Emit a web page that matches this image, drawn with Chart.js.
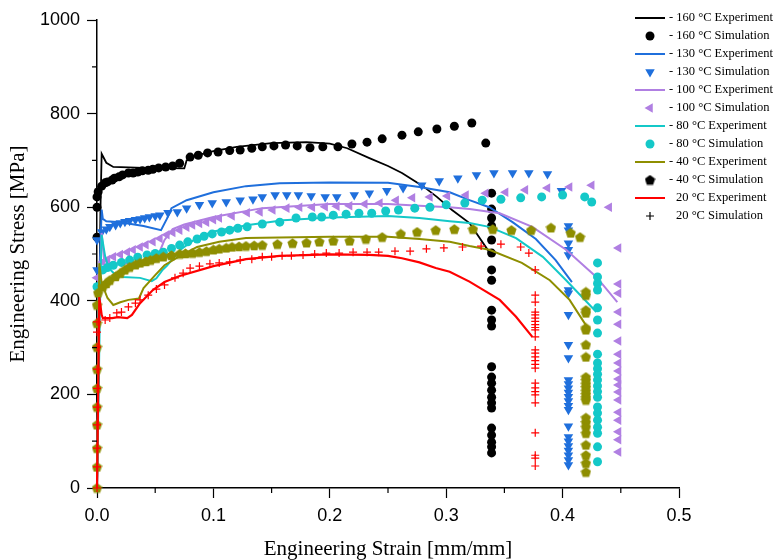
<!DOCTYPE html>
<html>
<head>
<meta charset="utf-8">
<title>Engineering stress - strain</title>
<script src="https://cdn.jsdelivr.net/npm/chart.js"></script>
<style>
  html, body { margin: 0; padding: 0; background: #fff; }
  #wrap { width: 780px; height: 560px; }
</style>
</head>
<body>
<div id="wrap"><canvas id="stressChart" width="780" height="560"></canvas></div>
<script>
// [strain mm/mm, stress MPa] pairs
const exp160 = [[0,0],[0.003,600],[0.004,714],[0.008,695],[0.014,686],[0.04,684],[0.075,683],[0.077,700],[0.085,710],[0.1,720],[0.12,729],[0.15,737],[0.18,739],[0.2,736],[0.215,726],[0.234,705],[0.25,688],[0.262,673],[0.28,645],[0.292,622],[0.305,594],[0.32,566],[0.337,504]];
const sim160 = [[0,536],[0,600],[0,622],[0.001,633],[0.004,645],[0.007,652],[0.009,654],[0.013,658],[0.015,662],[0.019,665],[0.022,669],[0.027,673],[0.031,673],[0.035,675],[0.039,678],[0.044,679],[0.048,681],[0.053,684],[0.059,686],[0.065,688],[0.071,694],[0.08,707],[0.087,711],[0.095,716],[0.104,718],[0.114,721],[0.123,722],[0.133,726],[0.142,729],[0.152,731],[0.162,733],[0.172,731],[0.183,727],[0.194,729],[0.207,729],[0.219,735],[0.232,739],[0.245,746],[0.262,754],[0.276,761],[0.292,767],[0.307,773],[0.322,780],[0.334,737],[0.339,630],[0.339,596],[0.339,577],[0.339,560],[0.339,530],[0.339,502],[0.339,466],[0.339,444],[0.339,380],[0.339,359],[0.339,346],[0.339,259],[0.339,237],[0.339,224],[0.339,209],[0.339,194],[0.339,182],[0.339,171],[0.339,128],[0.339,113],[0.339,98],[0.339,88],[0.339,75]];

const exp130 = [[0,0],[0.002,450],[0.004,595],[0.005,575],[0.008,570],[0.02,568],[0.04,560],[0.055,551],[0.06,575],[0.064,598],[0.077,615],[0.1,632],[0.128,645],[0.157,651],[0.2,653],[0.25,652],[0.277,643],[0.303,632],[0.32,615],[0.337,600],[0.357,568],[0.377,532],[0.394,487],[0.408,440]];
const sim130 = [[0,466],[0,530],[0.004,547],[0.008,553],[0.011,558],[0.016,562],[0.02,566],[0.024,569],[0.028,571],[0.033,573],[0.037,575],[0.041,577],[0.045,579],[0.05,581],[0.054,583],[0.061,588],[0.069,590],[0.077,598],[0.088,605],[0.099,609],[0.111,611],[0.123,615],[0.134,617],[0.142,622],[0.153,626],[0.163,626],[0.173,626],[0.184,624],[0.196,622],[0.206,622],[0.221,626],[0.234,630],[0.249,635],[0.263,641],[0.279,647],[0.294,656],[0.31,662],[0.326,669],[0.341,673],[0.357,673],[0.371,673],[0.387,671],[0.399,635],[0.405,560],[0.405,551],[0.405,523],[0.405,509],[0.405,498],[0.405,423],[0.405,416],[0.405,370],[0.405,306],[0.405,278],[0.405,231],[0.405,222],[0.405,213],[0.405,204],[0.405,195],[0.405,186],[0.405,176],[0.405,167],[0.405,132],[0.405,109],[0.405,100],[0.405,90],[0.405,80],[0.405,70],[0.405,60],[0.405,49]];

const exp100 = [[0,0],[0.002,400],[0.004,545],[0.006,490],[0.01,478],[0.03,480],[0.05,484],[0.053,500],[0.058,530],[0.065,553],[0.075,563],[0.1,579],[0.142,598],[0.2,607],[0.25,607],[0.277,603],[0.303,600],[0.32,596],[0.346,587],[0.374,558],[0.403,509],[0.429,451],[0.447,397]];
const sim100 = [[0,449],[0.005,483],[0.009,488],[0.014,494],[0.02,499],[0.026,504],[0.031,509],[0.037,515],[0.042,520],[0.048,526],[0.054,533],[0.06,541],[0.065,546],[0.071,551],[0.077,557],[0.082,562],[0.088,565],[0.094,568],[0.1,573],[0.105,577],[0.116,581],[0.129,588],[0.14,590],[0.151,594],[0.163,598],[0.174,600],[0.185,600],[0.196,601],[0.206,602],[0.217,603],[0.23,607],[0.243,609],[0.257,615],[0.271,620],[0.286,622],[0.301,624],[0.317,626],[0.334,630],[0.351,632],[0.368,637],[0.387,641],[0.406,643],[0.425,647],[0.44,600],[0.448,513],[0.448,436],[0.448,416],[0.448,376],[0.448,350],[0.448,314],[0.448,286],[0.448,267],[0.448,250],[0.448,233],[0.448,220],[0.448,205],[0.448,188],[0.448,162],[0.448,145],[0.448,120],[0.448,103],[0.448,77]];

const exp80 = [[0,0],[0.003,450],[0.004,541],[0.007,495],[0.01,470],[0.016,455],[0.022,451],[0.037,449],[0.047,442],[0.051,448],[0.056,465],[0.06,475],[0.067,495],[0.072,510],[0.086,535],[0.1,548],[0.13,562],[0.16,572],[0.2,578],[0.25,581],[0.277,577],[0.303,570],[0.32,566],[0.337,558],[0.36,534],[0.383,494],[0.403,444],[0.429,376]];
const sim80 = [[0,430],[0.005,466],[0.009,471],[0.014,476],[0.021,482],[0.028,487],[0.035,493],[0.043,498],[0.05,501],[0.057,504],[0.064,512],[0.071,519],[0.078,526],[0.086,532],[0.092,538],[0.099,543],[0.107,547],[0.114,551],[0.121,555],[0.129,558],[0.142,564],[0.157,568],[0.171,577],[0.185,579],[0.193,579],[0.203,583],[0.214,585],[0.225,587],[0.236,587],[0.248,592],[0.259,594],[0.273,598],[0.286,600],[0.3,605],[0.316,609],[0.331,615],[0.347,617],[0.364,620],[0.382,622],[0.4,626],[0.419,622],[0.425,611],[0.43,481],[0.43,451],[0.43,437],[0.43,423],[0.43,385],[0.43,359],[0.43,331],[0.43,286],[0.43,267],[0.43,255],[0.43,243],[0.43,231],[0.43,218],[0.43,206],[0.43,194],[0.43,173],[0.43,160],[0.43,145],[0.43,130],[0.43,117],[0.43,88],[0.43,56]];

const exp40 = [[0,0],[0.002,480],[0.004,438],[0.009,406],[0.014,391],[0.02,397],[0.027,402],[0.036,405],[0.04,427],[0.05,455],[0.058,476],[0.07,494],[0.086,515],[0.105,526],[0.128,534],[0.2,537],[0.25,537],[0.277,532],[0.303,526],[0.32,517],[0.337,509],[0.365,481],[0.389,444],[0.406,402],[0.42,348]];
const sim40 = [[0,0],[0,45],[0,85],[0,135],[0,173],[0,213],[0,254],[0,301],[0,352],[0,391],[0.001,417],[0.005,430],[0.008,437],[0.011,444],[0.016,452],[0.02,459],[0.024,466],[0.028,472],[0.033,477],[0.037,481],[0.042,484],[0.046,487],[0.051,491],[0.057,494],[0.064,497],[0.071,500],[0.076,501],[0.082,502],[0.088,504],[0.094,506],[0.1,509],[0.105,511],[0.111,513],[0.116,515],[0.122,516],[0.128,517],[0.135,518],[0.142,519],[0.155,521],[0.168,523],[0.18,524],[0.191,526],[0.203,528],[0.217,528],[0.231,532],[0.245,536],[0.261,543],[0.275,547],[0.291,551],[0.307,553],[0.323,553],[0.34,553],[0.356,551],[0.373,551],[0.39,556],[0.407,545],[0.415,536],[0.42,419],[0.42,412],[0.42,380],[0.42,374],[0.42,342],[0.42,338],[0.42,306],[0.42,280],[0.42,237],[0.42,230],[0.42,222],[0.42,215],[0.42,207],[0.42,200],[0.42,193],[0.42,188],[0.42,150],[0.42,140],[0.42,130],[0.42,117],[0.42,92],[0.42,70],[0.42,53],[0.42,34]];

const exp20 = [[0,0],[0.002,408],[0.004,370],[0.005,363],[0.013,363],[0.018,365],[0.026,363],[0.03,370],[0.037,395],[0.048,423],[0.058,440],[0.071,453],[0.1,474],[0.128,489],[0.157,496],[0.2,499],[0.234,498],[0.25,496],[0.262,491],[0.277,482],[0.291,470],[0.303,462],[0.32,441],[0.346,402],[0.36,366],[0.374,323]];
const sim20 = [[0,0],[0,45],[0,85],[0,135],[0,173],[0,213],[0,254],[0,301],[0,333],[0,355],[0.007,359],[0.011,363],[0.017,374],[0.021,376],[0.027,387],[0.033,395],[0.037,402],[0.044,412],[0.051,425],[0.058,434],[0.067,449],[0.074,459],[0.08,470],[0.088,474],[0.097,479],[0.105,481],[0.114,483],[0.123,487],[0.133,489],[0.142,494],[0.15,494],[0.159,496],[0.167,496],[0.177,498],[0.187,500],[0.197,502],[0.208,502],[0.22,504],[0.232,504],[0.242,504],[0.256,506],[0.269,506],[0.283,511],[0.298,513],[0.314,515],[0.33,517],[0.347,521],[0.364,515],[0.371,502],[0.3765,466],[0.3765,412],[0.3765,397],[0.3765,376],[0.3765,370],[0.3765,363],[0.3765,356],[0.3765,349],[0.3765,343],[0.3765,338],[0.3765,323],[0.3765,295],[0.3765,288],[0.3765,280],[0.3765,272],[0.3765,264],[0.3765,256],[0.3765,224],[0.3765,214],[0.3765,206],[0.3765,199],[0.3765,182],[0.3765,118],[0.3765,70],[0.3765,64],[0.3765,47]];

const xTicks = [0, 0.1, 0.2, 0.3, 0.4, 0.5];
const yTicks = [0, 200, 400, 600, 800, 1000];

const BLUE = "#1f6fdc";
const PURPLE = "#b07fe2";
const CYAN = "#14c8c8";
const OLIVE = "#8e8e00";

function toPoints(pairs) {
  return pairs.map((p) => ({ x: p[0], y: p[1] }));
}

// no pentagon in chart.js, so draw one on a small canvas
function pentagon(color, size) {
  const c = document.createElement("canvas");
  c.width = size;
  c.height = size;
  const g = c.getContext("2d");
  const r = size / 2;
  g.fillStyle = color;
  g.beginPath();
  for (let i = 0; i < 5; i++) {
    const a = -Math.PI / 2 + (i * 2 * Math.PI) / 5;
    const px = r + Math.cos(a) * r * 0.98;
    const py = r + 0.5 + Math.sin(a) * r * 0.98;
    if (i === 0) g.moveTo(px, py);
    else g.lineTo(px, py);
  }
  g.closePath();
  g.fill();
  return c;
}

function lineSet(label, pairs, color, width) {
  return {
    label: label,
    data: toPoints(pairs),
    showLine: true,
    borderColor: color,
    backgroundColor: color,
    borderWidth: width,
    pointRadius: 0,
    tension: 0,
    clip: false,
  };
}

function pointSet(label, pairs, color, style, radius, rotation) {
  return {
    label: label,
    data: toPoints(pairs),
    showLine: false,
    borderColor: color,
    backgroundColor: color,
    pointStyle: style,
    pointRadius: radius,
    pointRotation: rotation || 0,
    pointBorderWidth: style === "cross" ? 1.2 : 0,
    clip: false,
  };
}

const datasets = [
  lineSet("160 °C Experiment", exp160, "#000000", 1.8),
  pointSet("160 °C Simulation", sim160, "#000000", "circle", 4.5),
  lineSet("130 °C Experiment", exp130, BLUE, 2),
  pointSet("130 °C Simulation", sim130, BLUE, "triangle", 5.5, 180),
  lineSet("100 °C Experiment", exp100, PURPLE, 2),
  pointSet("100 °C Simulation", sim100, PURPLE, "triangle", 5.5, 270),
  lineSet("80 °C Experiment", exp80, CYAN, 2),
  pointSet("80 °C Simulation", sim80, CYAN, "circle", 4.5),
  lineSet("40 °C Experiment", exp40, OLIVE, 2),
  pointSet("40 °C Simulation", sim40, OLIVE, pentagon(OLIVE, 11), 5.5),
  lineSet("20 °C Experiment", exp20, "#ff0000", 2.2),
  pointSet("20 °C Simulation", sim20, "#ff0000", "cross", 4),
];
// later series sit on top, as in the original
datasets.forEach((d, i) => (d.order = datasets.length - i));

const legendPrefix = ["- ", "- ", "- ", "- ", "- ", "- ", "- ", "- ", "- ", "- ", "", ""];
const legendMarkerColor = [null, null, null, null, null, null, null, null, null, "#000", null, "#000"];

function drawMarker(ctx, ds, x, y, color) {
  const r = ds.pointRadius;
  ctx.save();
  ctx.fillStyle = color;
  ctx.strokeStyle = color;
  if (ds.pointStyle === "circle") {
    ctx.beginPath();
    ctx.arc(x, y, r, 0, Math.PI * 2);
    ctx.fill();
  } else if (ds.pointStyle === "triangle") {
    let a = (ds.pointRotation * Math.PI) / 180;
    ctx.beginPath();
    for (let i = 0; i < 3; i++) {
      const px = x + Math.sin(a) * r;
      const py = y - Math.cos(a) * r;
      if (i === 0) ctx.moveTo(px, py);
      else ctx.lineTo(px, py);
      a += (2 * Math.PI) / 3;
    }
    ctx.closePath();
    ctx.fill();
  } else if (ds.pointStyle === "cross") {
    ctx.lineWidth = 1.2;
    ctx.beginPath();
    ctx.moveTo(x - r, y);
    ctx.lineTo(x + r, y);
    ctx.moveTo(x, y - r);
    ctx.lineTo(x, y + r);
    ctx.stroke();
  } else {
    ctx.drawImage(pentagon(color, 11), x - 5.5, y - 5.5);
  }
  ctx.restore();
}

const plotLegend = {
  id: "plotLegend",
  afterDraw(chart) {
    const ctx = chart.ctx;
    ctx.save();
    ctx.font = "12.5px 'Liberation Serif', 'Times New Roman', serif";
    ctx.textBaseline = "middle";
    ctx.fillStyle = "#000";
    datasets.forEach((ds, i) => {
      const y = 18 + i * 18;
      if (ds.showLine) {
        ctx.strokeStyle = ds.borderColor;
        ctx.lineWidth = 2;
        ctx.beginPath();
        ctx.moveTo(635, y);
        ctx.lineTo(665, y);
        ctx.stroke();
      } else {
        drawMarker(ctx, ds, 650, y, legendMarkerColor[i] || ds.backgroundColor);
      }
      ctx.fillStyle = "#000";
      const tx = legendPrefix[i] ? 669 : 676;
      ctx.fillText(legendPrefix[i] + ds.label, tx, y);
    });
    ctx.restore();
  },
};

// minor ticks between the labelled ones
const minorTicks = {
  id: "minorTicks",
  afterDraw(chart) {
    const xs = chart.scales.x;
    const ys = chart.scales.y;
    const ctx = chart.ctx;
    ctx.save();
    ctx.strokeStyle = "#000";
    ctx.lineWidth = 1.2;
    ctx.beginPath();
    for (let i = 0; i < yTicks.length - 1; i++) {
      const py = ys.getPixelForValue((yTicks[i] + yTicks[i + 1]) / 2);
      ctx.moveTo(xs.left - 5, py);
      ctx.lineTo(xs.left, py);
    }
    for (let i = 0; i < xTicks.length - 1; i++) {
      const px = xs.getPixelForValue((xTicks[i] + xTicks[i + 1]) / 2);
      ctx.moveTo(px, ys.bottom);
      ctx.lineTo(px, ys.bottom + 5);
    }
    ctx.stroke();
    ctx.restore();
  },
};

const tickFont = { family: "'Liberation Sans', Arial, sans-serif", size: 18 };
const titleFont = { family: "'Liberation Serif', 'Times New Roman', serif", size: 21 };

new Chart(document.getElementById("stressChart"), {
  type: "scatter",
  data: { datasets: datasets },
  options: {
    responsive: false,
    animation: false,
    layout: { padding: { top: 20, right: 101, left: 0, bottom: 0 } },
    plugins: {
      legend: { display: false },
      tooltip: { enabled: false },
    },
    scales: {
      x: {
        type: "linear",
        min: 0,
        max: 0.5,
        afterFit: (scale) => { scale.height = 72; },
        afterBuildTicks: (scale) => { scale.ticks = xTicks.map((v) => ({ value: v })); },
        ticks: {
          color: "#000",
          font: tickFont,
          padding: 7,
          maxRotation: 0,
          callback: (v) => v.toFixed(1),
        },
        grid: { drawOnChartArea: false, tickLength: 10, tickColor: "#000", tickWidth: 1.2 },
        border: { display: true, color: "#000", width: 1.5 },
        title: {
          display: true,
          text: "Engineering Strain [mm/mm]",
          color: "#000",
          font: titleFont,
          padding: { top: 0, bottom: -2 },
        },
      },
      y: {
        type: "linear",
        min: 0,
        max: 1000,
        afterFit: (scale) => { scale.width = 97; },
        afterBuildTicks: (scale) => { scale.ticks = yTicks.map((v) => ({ value: v })); },
        ticks: { color: "#000", font: tickFont, padding: 7, callback: (v) => String(v) },
        grid: { drawOnChartArea: false, tickLength: 10, tickColor: "#000", tickWidth: 1.2 },
        border: { display: true, color: "#000", width: 1.5 },
        title: {
          display: true,
          text: "Engineering Stress [MPa]",
          color: "#000",
          font: titleFont,
          padding: { top: 6, bottom: 0 },
        },
      },
    },
  },
  plugins: [minorTicks, plotLegend],
});
</script>
</body>
</html>
